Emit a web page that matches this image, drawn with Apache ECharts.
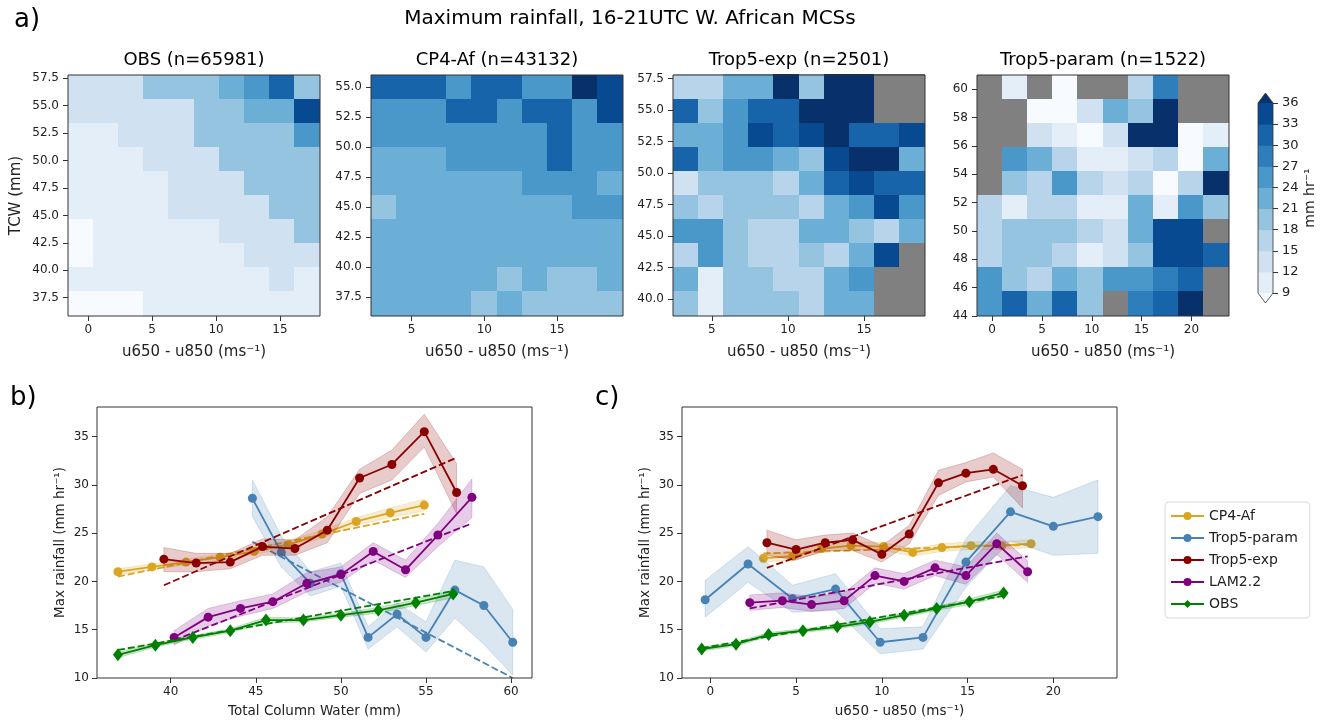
<!DOCTYPE html>
<html>
<head>
<meta charset="utf-8">
<script src="https://cdn.jsdelivr.net/npm/echarts@6/dist/echarts.min.js"></script>
<style>
  html, body { margin: 0; padding: 0; background: #fff; }
  #chart { width: 1325px; height: 723px; }
</style>
</head>
<body>
<div id="chart"></div>
<script>
// ---------- data ----------
// colour levels of the shared colourbar (mm hr-1)
const cbLevels = [9, 12, 15, 18, 21, 24, 27, 30, 33, 36];

// a) binned max rainfall, rows from top (high TCW) to bottom, null = empty bin
const obsShear = [-1.58, 18.13];
const obsTcw = [35.83, 57.8];
const obsCells = [
  [13.5, 13.8, 14.1, 19.2, 19.5, 19.9, 22.8, 25.6, 31.2, 19.7],
  [13.2, 13.4, 13.6, 13.9, 14.3, 19.1, 19.6, 22.4, 22.9, 34.2],
  [11.2, 11.6, 12.9, 13.3, 14.0, 18.6, 18.9, 19.3, 20.1, 25.1],
  [10.8, 11.1, 11.7, 12.6, 13.1, 14.4, 18.3, 18.7, 19.2, 19.8],
  [10.6, 10.9, 11.3, 11.8, 12.8, 13.4, 14.6, 18.2, 18.8, 19.4],
  [10.4, 10.7, 11.0, 11.5, 12.3, 12.9, 13.5, 14.2, 18.4, 19.1],
  [8.7, 10.2, 10.6, 10.9, 11.3, 11.8, 12.5, 13.3, 14.1, 18.5],
  [8.5, 9.9, 10.3, 10.6, 10.9, 11.2, 11.7, 12.4, 13.2, 13.8],
  [9.6, 9.8, 10.1, 10.4, 10.7, 11.0, 11.4, 11.8, 12.3, 11.6],
  [7.9, 8.3, 8.7, 9.4, 9.8, 10.2, 10.5, 10.8, 11.3, 11.1]
];
const obsShearTicks = [0, 5, 10, 15];
const obsTcwTicks = [37.5, 40, 42.5, 45, 47.5, 50, 52.5, 55, 57.5];

const cp4Shear = [2.2, 19.54];
const cp4Tcw = [35.9, 56.03];
const cp4Cells = [
  [30.4, 30.8, 30.6, 26.2, 31.0, 30.7, 26.5, 26.9, 37.2, 34.1],
  [26.3, 26.0, 26.4, 30.5, 30.2, 26.7, 30.9, 30.3, 26.6, 33.8],
  [25.5, 25.2, 25.8, 25.9, 26.1, 25.7, 26.4, 30.1, 26.2, 25.9],
  [23.4, 23.7, 23.9, 24.6, 25.1, 24.9, 25.6, 30.2, 25.8, 25.3],
  [22.8, 23.1, 23.3, 23.2, 23.5, 23.8, 24.4, 24.9, 24.6, 23.6],
  [20.6, 22.1, 22.4, 22.6, 22.9, 23.0, 23.2, 23.6, 24.3, 24.5],
  [22.0, 22.2, 22.5, 22.3, 22.7, 22.9, 23.1, 23.3, 23.5, 23.2],
  [21.8, 22.0, 21.9, 22.3, 22.1, 22.4, 22.6, 22.8, 23.0, 22.7],
  [21.6, 21.9, 21.7, 21.5, 21.3, 20.8, 21.2, 20.6, 20.9, 21.4],
  [21.5, 21.7, 21.4, 21.2, 20.7, 21.1, 20.5, 20.4, 20.8, 20.6]
];
const cp4ShearTicks = [5, 10, 15];
const cp4TcwTicks = [37.5, 40, 42.5, 45, 47.5, 50, 52.5, 55];

const expShear = [2.45, 19.0];
const expTcw = [38.67, 57.77];
const expCells = [
  [16.8, 17.2, 22.4, 22.9, 37.4, 19.8, 38.6, 39.1, null, null],
  [31.3, 19.6, 25.7, 31.5, 31.1, 37.9, 38.8, 37.5, null, null],
  [22.9, 23.2, 26.0, 34.3, 31.0, 34.8, 38.1, 31.6, 31.9, 34.5],
  [31.0, 23.1, 25.3, 25.9, 22.7, 20.2, 34.9, 37.6, 38.3, 22.8],
  [14.3, 19.5, 19.9, 20.3, 17.4, 22.6, 31.8, 35.1, 31.2, 31.5],
  [19.8, 16.9, 19.3, 20.1, 19.7, 17.2, 23.3, 25.7, 34.6, 25.9],
  [25.6, 25.2, 19.2, 17.0, 16.5, 22.8, 23.1, 19.5, 16.8, 22.3],
  [16.4, 25.9, 20.4, 16.7, 17.1, 19.1, 16.2, 23.5, 34.8, null],
  [22.5, 10.9, 19.4, 19.8, 16.9, 17.3, 23.0, 26.2, null, null],
  [19.7, 11.3, 19.6, 20.0, 19.2, 17.5, 22.7, 23.4, null, null]
];
const expShearTicks = [5, 10, 15];
const expTcwTicks = [40, 42.5, 45, 47.5, 50, 52.5, 55, 57.5];

const parShear = [-1.52, 23.77];
const parTcw = [44, 61];
const parCells = [
  [null, 11.4, null, 8.1, null, null, 16.9, 28.8, null, null],
  [null, null, 7.6, 8.4, 14.2, 22.7, 19.8, 38.4, null, null],
  [null, null, 13.7, 11.1, 8.2, 13.9, 37.8, 39.5, 8.6, 11.0],
  [null, 26.1, 22.9, 16.8, 11.5, 11.8, 14.1, 16.3, 8.0, 23.2],
  [null, 19.7, 17.1, 25.8, 16.6, 14.4, 16.9, 8.3, 17.3, 38.9],
  [16.7, 10.8, 16.4, 17.0, 11.2, 11.6, 22.8, 11.3, 26.0, 19.6],
  [16.2, 19.4, 19.9, 19.1, 16.5, 13.8, 22.4, 34.7, 35.2, null],
  [16.9, 19.3, 19.6, 17.2, 11.0, 13.6, 19.8, 34.5, 34.9, 31.7],
  [25.7, 19.5, 16.6, 22.8, 19.9, 25.2, 25.9, 28.4, 31.3, null],
  [25.3, 31.8, 22.5, 32.0, 19.4, null, 28.9, 31.6, 38.7, null]
];
const parShearTicks = [0, 5, 10, 15, 20];
const parTcwTicks = [44, 46, 48, 50, 52, 54, 56, 58, 60];

// b) max rainfall against total column water
const tcwRange = [35.67, 61.23];
const tcwTicks = [40, 45, 50, 55, 60];
const rainRange = [10, 38.05];
const rainTicks = [10, 15, 20, 25, 30, 35];

const cp4TcwX = [36.9, 38.9, 40.9, 42.9, 44.9, 46.9, 48.9, 50.9, 52.9, 54.9];
const cp4TcwY = [21.0, 21.5, 22.0, 22.5, 23.1, 23.8, 24.9, 26.2, 27.1, 27.9];
const cp4TcwLo = [20.7, 21.2, 21.7, 22.2, 22.8, 23.4, 24.5, 25.8, 26.6, 27.3];
const cp4TcwHi = [21.3, 21.8, 22.3, 22.8, 23.4, 24.2, 25.3, 26.6, 27.6, 28.5];
const cp4TcwFit = [20.5, 27.0];

const parTcwX = [44.8, 46.5, 48.2, 50.0, 51.6, 53.3, 55.0, 56.7, 58.4, 60.1];
const parTcwY = [28.6, 23.0, 19.8, 20.8, 14.2, 16.6, 14.2, 19.1, 17.5, 13.7];
const parTcwLo = [26.7, 21.5, 18.5, 19.5, 13.0, 15.3, 12.7, 16.2, 13.5, 10.3];
const parTcwHi = [30.5, 24.7, 21.0, 21.9, 15.3, 17.8, 15.8, 22.2, 21.5, 17.1];
const parTcwFit = [24.1, 10.0];

const expTcwX = [39.6, 41.5, 43.5, 45.4, 47.3, 49.2, 51.1, 53.0, 54.9, 56.8];
const expTcwY = [22.3, 21.9, 22.0, 23.6, 23.4, 25.3, 30.7, 32.1, 35.5, 29.2];
const expTcwLo = [21.0, 21.0, 21.3, 22.7, 22.7, 24.0, 29.1, 30.5, 33.9, 27.0];
const expTcwHi = [23.5, 22.9, 22.9, 24.4, 24.3, 26.7, 31.6, 33.6, 37.3, 32.2];
const expTcwFit = [19.6, 32.8];

const lamTcwX = [40.2, 42.2, 44.1, 46.0, 48.0, 50.0, 51.9, 53.8, 55.7, 57.7];
const lamTcwY = [14.2, 16.3, 17.2, 17.9, 19.8, 20.7, 23.1, 21.2, 24.8, 28.7];
const lamTcwLo = [13.4, 15.4, 16.4, 17.2, 18.9, 19.9, 22.2, 20.4, 23.6, 26.6];
const lamTcwHi = [14.9, 17.2, 18.0, 18.7, 20.9, 21.5, 24.0, 22.2, 26.0, 30.6];
const lamTcwFit = [13.9, 26.0];

const obsTcwX = [36.9, 39.1, 41.3, 43.5, 45.6, 47.8, 50.0, 52.2, 54.4, 56.6];
const obsTcwY = [12.4, 13.4, 14.2, 14.9, 16.0, 16.0, 16.5, 17.0, 17.8, 18.7];
const obsTcwLo = [12.1, 13.2, 14.0, 14.7, 15.7, 15.8, 16.3, 16.7, 17.5, 18.3];
const obsTcwHi = [12.7, 13.6, 14.4, 15.1, 16.3, 16.2, 16.7, 17.3, 18.1, 19.1];
const obsTcwFit = [12.9, 19.0];

// c) max rainfall against shear
const shearRange = [-1.65, 23.71];
const shearTicks = [0, 5, 10, 15, 20];

const cp4ShX = [3.1, 4.8, 6.5, 8.2, 10.1, 11.8, 13.5, 15.2, 17.0, 18.7];
const cp4ShY = [22.4, 22.6, 23.4, 23.7, 23.6, 23.0, 23.5, 23.7, 23.7, 23.9];
const cp4ShLo = [22.0, 22.2, 23.0, 23.3, 23.2, 22.6, 23.1, 23.3, 23.3, 23.5];
const cp4ShHi = [22.8, 23.0, 23.8, 24.1, 24.0, 23.4, 23.9, 24.1, 24.1, 24.3];
const cp4ShFit = [22.9, 23.8];

const parShX = [-0.3, 2.2, 4.8, 7.3, 9.9, 12.4, 14.9, 17.5, 20.0, 22.6];
const parShY = [18.1, 21.8, 18.2, 19.2, 13.7, 14.2, 22.0, 27.2, 25.7, 26.7];
const parShLo = [16.3, 19.9, 16.8, 17.0, 12.5, 13.0, 19.4, 24.2, 22.7, 22.9];
const parShHi = [20.1, 23.6, 19.6, 20.8, 15.1, 15.3, 24.4, 29.9, 28.7, 30.5];

const expShX = [3.3, 5.0, 6.7, 8.3, 10.0, 11.6, 13.3, 14.9, 16.5, 18.2];
const expShY = [24.0, 23.3, 24.0, 24.3, 22.8, 24.9, 30.2, 31.2, 31.6, 29.9];
const expShLo = [22.7, 22.2, 23.2, 23.2, 22.0, 23.9, 28.9, 30.3, 30.8, 27.6];
const expShHi = [25.3, 24.3, 24.8, 25.0, 23.7, 25.8, 31.5, 32.3, 33.3, 31.6];
const expShFit = [21.4, 31.0];

const lamShX = [2.3, 4.2, 5.9, 7.8, 9.6, 11.3, 13.1, 14.9, 16.7, 18.5];
const lamShY = [17.8, 18.0, 17.6, 18.0, 20.6, 20.0, 21.4, 20.6, 23.9, 21.0];
const lamShLo = [17.0, 17.3, 16.9, 17.2, 19.8, 19.2, 20.6, 19.7, 22.8, 19.9];
const lamShHi = [18.6, 18.8, 18.4, 18.8, 21.4, 20.8, 22.2, 21.5, 25.0, 22.1];
const lamShFit = [17.2, 22.6];

const obsShX = [-0.5, 1.5, 3.4, 5.4, 7.4, 9.3, 11.3, 13.2, 15.1, 17.1];
const obsShY = [13.0, 13.5, 14.5, 14.9, 15.3, 15.8, 16.5, 17.2, 17.9, 18.8];
const obsShLo = [12.8, 13.3, 14.3, 14.7, 15.1, 15.6, 16.3, 17.0, 17.6, 18.5];
const obsShHi = [13.2, 13.7, 14.7, 15.1, 15.5, 16.0, 16.7, 17.4, 18.2, 19.1];
const obsShFit = [13.1, 18.5];

// ---------- styling ----------
const FONT = 'DejaVu Sans';
const blues = ['#f7fbff', '#e3eef9', '#d0e1f2', '#b7d4ea', '#94c4df', '#6baed6',
  '#4a98c9', '#2e7ebc', '#1764ab', '#084a91', '#08306b'];
const nanColor = '#808080';
const colors = {
  'CP4-Af': '#daa520',
  'Trop5-param': '#4682b4',
  'Trop5-exp': '#8b0000',
  'LAM2.2': '#800080',
  'OBS': '#008000'
};

function colorFor(v) {
  if (v === null || v === undefined) return nanColor;
  let k = 0;
  while (k < cbLevels.length && v >= cbLevels[k]) k++;
  return blues[k];
}

const heatTop = 75, heatH = 241, heatW = 252;
const heatPanels = [
  { title: 'OBS (n=65981)', left: 68, cells: obsCells, xr: obsShear, yr: obsTcw, xt: obsShearTicks, yt: obsTcwTicks, dec: 1 },
  { title: 'CP4-Af (n=43132)', left: 371, cells: cp4Cells, xr: cp4Shear, yr: cp4Tcw, xt: cp4ShearTicks, yt: cp4TcwTicks, dec: 1 },
  { title: 'Trop5-exp (n=2501)', left: 673, cells: expCells, xr: expShear, yr: expTcw, xt: expShearTicks, yt: expTcwTicks, dec: 1 },
  { title: 'Trop5-param (n=1522)', left: 977, cells: parCells, xr: parShear, yr: parTcw, xt: parShearTicks, yt: parTcwTicks, dec: 0 }
];

const grids = [];
const xAxes = [];
const yAxes = [];
const series = [];
const graphics = [];

const tickStyle = { show: true, length: 5, lineStyle: { color: '#333', width: 1 } };
const labelStyle = { color: '#222', fontSize: 12, fontFamily: FONT };
const noLine = { show: false, onZero: false };
const shearName = 'u650 - u850 (ms⁻¹)';

function frameSeries(g) {
  return {
    type: 'custom', xAxisIndex: g, yAxisIndex: g, z: 20, silent: true,
    data: [[0, 0]],
    renderItem: (params) => {
      const c = params.coordSys;
      return {
        type: 'rect',
        shape: { x: c.x, y: c.y, width: c.width, height: c.height },
        style: { fill: null, stroke: '#333', lineWidth: 1 }
      };
    }
  };
}

// ---- a) heatmaps ----
heatPanels.forEach((p, g) => {
  grids.push({ left: p.left, top: heatTop, width: heatW, height: heatH });
  xAxes.push({
    type: 'value', gridIndex: g, min: p.xr[0], max: p.xr[1],
    axisLine: noLine, splitLine: { show: false },
    axisTick: Object.assign({ customValues: p.xt }, tickStyle),
    axisLabel: Object.assign({ customValues: p.xt, margin: 8 }, labelStyle),
    name: shearName, nameLocation: 'middle', nameGap: 29,
    nameTextStyle: { color: '#222', fontSize: 15, fontFamily: FONT }
  });
  yAxes.push({
    type: 'value', gridIndex: g, min: p.yr[0], max: p.yr[1],
    axisLine: noLine, splitLine: { show: false },
    axisTick: Object.assign({ customValues: p.yt }, tickStyle),
    axisLabel: Object.assign({ customValues: p.yt, margin: 9, formatter: v => v.toFixed(p.dec) }, labelStyle),
    name: g === 0 ? 'TCW (mm)' : '', nameLocation: 'middle', nameGap: 44, nameRotate: 90,
    nameTextStyle: { color: '#222', fontSize: 15, fontFamily: FONT }
  });
  const data = [];
  p.cells.forEach((row, j) => row.forEach((v, i) => data.push([i, j, v])));
  const nx = p.cells[0].length, ny = p.cells.length;
  const dx = (p.xr[1] - p.xr[0]) / nx, dy = (p.yr[1] - p.yr[0]) / ny;
  series.push({
    type: 'custom', xAxisIndex: g, yAxisIndex: g, silent: true,
    data: data,
    renderItem: (params, api) => {
      const d = data[params.dataIndex];
      const x0 = p.xr[0] + d[0] * dx;
      const yT = p.yr[1] - d[1] * dy;
      const a = api.coord([x0, yT]);
      const b = api.coord([x0 + dx, yT - dy]);
      const l = Math.floor(a[0]), t = Math.floor(a[1]);
      return {
        type: 'rect',
        shape: { x: l, y: t, width: Math.ceil(b[0]) - l, height: Math.ceil(b[1]) - t },
        style: { fill: colorFor(d[2]) }
      };
    }
  });
  series.push(frameSeries(g));
  graphics.push({
    type: 'text', x: p.left + heatW / 2, y: 60,
    style: { text: p.title, fontSize: 18, fontFamily: FONT, fill: '#000', textAlign: 'center', textVerticalAlign: 'middle' }
  });
});

// ---- colourbar ----
const gCb = grids.length;
grids.push({ left: 1258, top: 103, width: 15, height: 190 });
xAxes.push({ type: 'value', gridIndex: gCb, min: 0, max: 1, show: false });
yAxes.push({
  type: 'value', gridIndex: gCb, position: 'right', min: cbLevels[0], max: cbLevels[cbLevels.length - 1], interval: 3,
  axisLine: noLine, splitLine: { show: false },
  axisTick: tickStyle,
  axisLabel: Object.assign({ margin: 9 }, labelStyle, { fontSize: 13 }),
  name: 'mm hr⁻¹', nameLocation: 'middle', nameGap: 30, nameRotate: 90,
  nameTextStyle: { color: '#222', fontSize: 14, fontFamily: FONT }
});
series.push({
  type: 'custom', xAxisIndex: gCb, yAxisIndex: gCb, silent: true,
  data: cbLevels.slice(0, -1).map((v, i) => [i, v]),
  renderItem: (params, api) => {
    const i = params.dataIndex;
    const a = api.coord([0, cbLevels[i + 1]]);
    const b = api.coord([1, cbLevels[i]]);
    return {
      type: 'rect',
      shape: { x: a[0], y: a[1] - 0.5, width: b[0] - a[0], height: b[1] - a[1] + 1 },
      style: { fill: blues[i + 1] }
    };
  }
});
series.push({
  type: 'custom', xAxisIndex: gCb, yAxisIndex: gCb, silent: true, z: 20,
  data: [[0, 0]],
  renderItem: (params, api) => {
    const lo = cbLevels[0], hi = cbLevels[cbLevels.length - 1];
    const tl = api.coord([0, hi]), tr = api.coord([1, hi]);
    const bl = api.coord([0, lo]), br = api.coord([1, lo]);
    const mx = (tl[0] + tr[0]) / 2, tip = 10;
    return {
      type: 'group',
      children: [
        { type: 'polygon', shape: { points: [tl, tr, [mx, tl[1] - tip]] }, style: { fill: blues[10] } },
        { type: 'polygon', shape: { points: [bl, br, [mx, bl[1] + tip]] }, style: { fill: blues[0] } },
        {
          type: 'polygon',
          shape: { points: [[mx, tl[1] - tip], tr, br, [mx, bl[1] + tip], bl, tl] },
          style: { fill: null, stroke: '#333', lineWidth: 0.8 }
        }
      ]
    };
  }
});

// ---- b) and c) line panels ----
function linePanel(left, xr, xt, xname, sets) {
  const g = grids.length;
  grids.push({ left: left, top: 407, width: 435, height: 271 });
  xAxes.push({
    type: 'value', gridIndex: g, min: xr[0], max: xr[1],
    axisLine: noLine, splitLine: { show: false },
    axisTick: Object.assign({ customValues: xt }, tickStyle),
    axisLabel: Object.assign({ customValues: xt, margin: 8 }, labelStyle),
    name: xname, nameLocation: 'middle', nameGap: 26,
    nameTextStyle: { color: '#222', fontSize: 13.5, fontFamily: FONT }
  });
  yAxes.push({
    type: 'value', gridIndex: g, min: rainRange[0], max: rainRange[1],
    axisLine: noLine, splitLine: { show: false },
    axisTick: Object.assign({ customValues: rainTicks }, tickStyle),
    axisLabel: Object.assign({ customValues: rainTicks, margin: 8 }, labelStyle),
    name: 'Max rainfall (mm hr⁻¹)', nameLocation: 'middle', nameGap: 30, nameRotate: 90,
    nameTextStyle: { color: '#222', fontSize: 13.5, fontFamily: FONT }
  });
  sets.forEach((s, k) => {
    const col = colors[s.name];
    const z0 = 2 + k * 3;
    // spread band
    series.push({
      type: 'custom', xAxisIndex: g, yAxisIndex: g, silent: true, z: z0,
      data: [[s.x[0], s.y[0]]],
      renderItem: (params, api) => {
        const pts = [];
        s.x.forEach((x, i) => pts.push(api.coord([x, s.hi[i]])));
        for (let i = s.x.length - 1; i >= 0; i--) pts.push(api.coord([s.x[i], s.lo[i]]));
        return {
          type: 'polygon', shape: { points: pts },
          style: { fill: col, opacity: 0.2, stroke: col, lineWidth: 1 }
        };
      }
    });
    // linear fit
    if (s.fit) {
      series.push({
        type: 'line', name: s.name + ' fit', xAxisIndex: g, yAxisIndex: g, silent: true, z: z0 + 1,
        data: [[s.x[0], s.fit[0]], [s.x[s.x.length - 1], s.fit[1]]],
        symbol: 'none', lineStyle: { color: col, width: 1.8, type: [7, 3] }
      });
    }
    series.push({
      type: 'line', name: s.name, xAxisIndex: g, yAxisIndex: g, z: z0 + 2,
      data: s.x.map((x, i) => [x, s.y[i]]),
      symbol: s.name === 'OBS' ? 'diamond' : 'circle',
      symbolSize: s.name === 'OBS' ? [10, 13] : 9,
      showAllSymbol: true,
      itemStyle: { color: col },
      lineStyle: { color: col, width: 1.8 }
    });
  });
  series.push(frameSeries(g));
}

linePanel(97, tcwRange, tcwTicks, 'Total Column Water (mm)', [
  { name: 'CP4-Af', x: cp4TcwX, y: cp4TcwY, lo: cp4TcwLo, hi: cp4TcwHi, fit: cp4TcwFit },
  { name: 'Trop5-param', x: parTcwX, y: parTcwY, lo: parTcwLo, hi: parTcwHi, fit: parTcwFit },
  { name: 'Trop5-exp', x: expTcwX, y: expTcwY, lo: expTcwLo, hi: expTcwHi, fit: expTcwFit },
  { name: 'LAM2.2', x: lamTcwX, y: lamTcwY, lo: lamTcwLo, hi: lamTcwHi, fit: lamTcwFit },
  { name: 'OBS', x: obsTcwX, y: obsTcwY, lo: obsTcwLo, hi: obsTcwHi, fit: obsTcwFit }
]);
linePanel(682, shearRange, shearTicks, shearName, [
  { name: 'CP4-Af', x: cp4ShX, y: cp4ShY, lo: cp4ShLo, hi: cp4ShHi, fit: cp4ShFit },
  { name: 'Trop5-param', x: parShX, y: parShY, lo: parShLo, hi: parShHi, fit: null },
  { name: 'Trop5-exp', x: expShX, y: expShY, lo: expShLo, hi: expShHi, fit: expShFit },
  { name: 'LAM2.2', x: lamShX, y: lamShY, lo: lamShLo, hi: lamShHi, fit: lamShFit },
  { name: 'OBS', x: obsShX, y: obsShY, lo: obsShLo, hi: obsShHi, fit: obsShFit }
]);

// ---- texts ----
graphics.push(
  { type: 'text', x: 630, y: 19, style: { text: 'Maximum rainfall, 16-21UTC W. African MCSs', fontSize: 20, fontFamily: FONT, fill: '#000', textAlign: 'center', textVerticalAlign: 'middle' } },
  { type: 'text', x: 14, y: 20, style: { text: 'a)', fontSize: 26, fontFamily: FONT, fill: '#000', textAlign: 'left', textVerticalAlign: 'middle' } },
  { type: 'text', x: 10, y: 398, style: { text: 'b)', fontSize: 26, fontFamily: FONT, fill: '#000', textAlign: 'left', textVerticalAlign: 'middle' } },
  { type: 'text', x: 595, y: 398, style: { text: 'c)', fontSize: 26, fontFamily: FONT, fill: '#000', textAlign: 'left', textVerticalAlign: 'middle' } }
);

const chart = echarts.init(document.getElementById('chart'), null, { renderer: 'canvas' });
chart.setOption({
  animation: false,
  backgroundColor: '#fff',
  grid: grids,
  xAxis: xAxes,
  yAxis: yAxes,
  legend: {
    data: ['CP4-Af', 'Trop5-param', 'Trop5-exp', 'LAM2.2', 'OBS'],
    orient: 'vertical', left: 1165, top: 502,
    itemWidth: 33, itemHeight: 10, itemGap: 6,
    selectedMode: false,
    textStyle: { color: '#222', fontSize: 14, fontFamily: FONT, lineHeight: 16 },
    borderColor: '#d8d8d8', borderWidth: 1, borderRadius: 4,
    padding: [6, 12, 6, 5]
  },
  graphic: graphics,
  series: series
});
</script>
</body>
</html>
